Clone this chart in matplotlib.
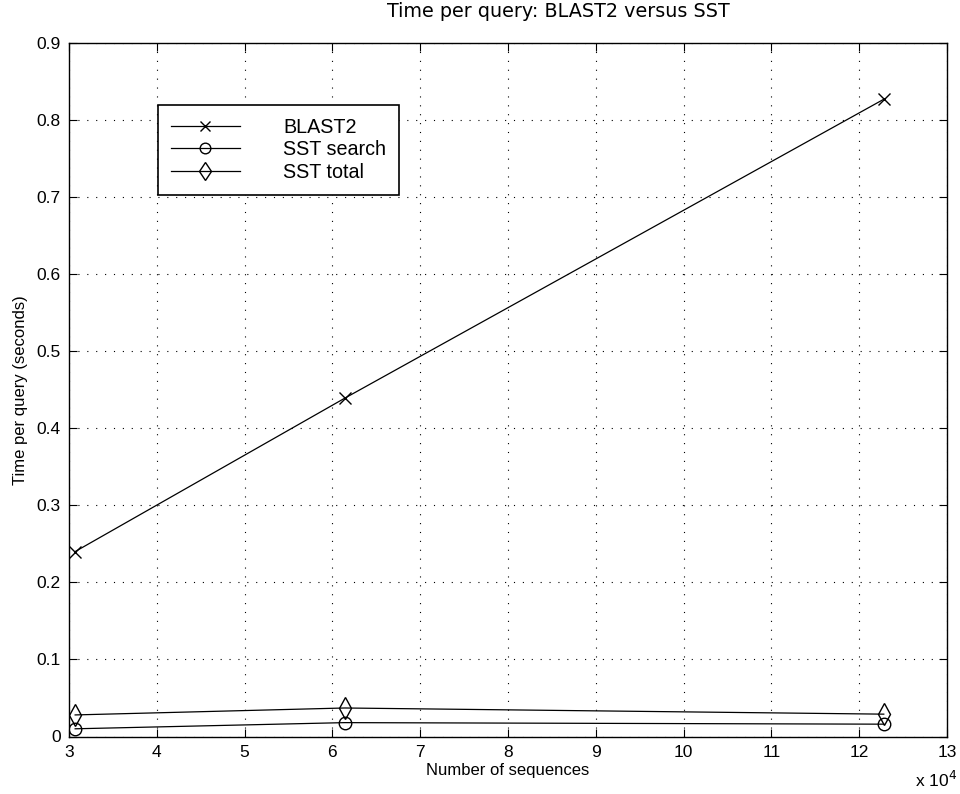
import matplotlib
matplotlib.use("Agg")
import matplotlib.pyplot as plt

plt.rcParams['font.family'] = ['Liberation Sans', 'DejaVu Sans']

n_sequences = [30700, 61400, 122800]
blast2 = [0.240, 0.439, 0.827]
sst_search = [0.010, 0.018, 0.016]
sst_total = [0.028, 0.037, 0.029]

x_ticks = [3, 4, 5, 6, 7, 8, 9, 10, 11, 12, 13]
y_ticks = [0, 0.1, 0.2, 0.3, 0.4, 0.5, 0.6, 0.7, 0.8, 0.9]
y_tick_labels = ['0', '0.1', '0.2', '0.3', '0.4', '0.5', '0.6', '0.7', '0.8', '0.9']

top_px, bot_px = 43, 736.5
fig = plt.figure(figsize=(9.6, 7.94), dpi=100)
ax = fig.add_axes([69/960, 1 - bot_px/794, (947 - 69)/960, (bot_px - top_px)/794])

xs = [v / 1e4 for v in n_sequences]
ax.plot(xs, blast2, color='black', lw=0.9, marker='x', ms=8, mew=1.0, label='BLAST2')
ax.plot(xs, sst_search, color='black', lw=0.9, marker='o', ms=9, mfc='none', mew=1.0, label='SST search')
ax.plot(xs, sst_total, color='black', lw=0.9, marker='d', ms=11, mfc='none', mew=1.0, label='SST total')

ax.set_xlim(3, 13)
ax.set_ylim(0, 0.9)
ax.set_xticks(x_ticks)
ax.set_xticklabels([str(t) for t in x_ticks])
ax.set_yticks(y_ticks)
ax.set_yticklabels(y_tick_labels)
ax.tick_params(direction='in', top=True, right=True, length=6, width=0.8,
               labelsize=12.5, pad=6)
for s in ax.spines.values():
    s.set_linewidth(1.0)
ax.grid(True, color='black', linestyle=(0, (1, 7)), linewidth=0.8)

fig.text(558/960, 1 - 17/794, 'Time per query: BLAST2 versus SST', fontsize=13.8,
         family='DejaVu Sans', ha='center', va='baseline')
ax.set_xlabel('Number of sequences', fontsize=12, labelpad=2)
ax.set_ylabel('Time per query (seconds)', fontsize=12, labelpad=6)

fig.text(957/960, 1 - 790/794, r'x 10$^{4}$', fontsize=12.5, ha='right', va='bottom')

leg = ax.legend(loc='upper left',
                bbox_to_anchor=((158 - 69)/878, 1 - (105 - top_px)/(bot_px - top_px)),
                fontsize=14.2, frameon=True, fancybox=False, edgecolor='black',
                handlelength=3.5, handletextpad=2.2, labelspacing=0.18,
                borderpad=0.65, borderaxespad=0.0, markerscale=0.85)
leg.get_frame().set_linewidth(1.2)
leg.get_frame().set_alpha(1)

fig.savefig('out.png', dpi=100)
